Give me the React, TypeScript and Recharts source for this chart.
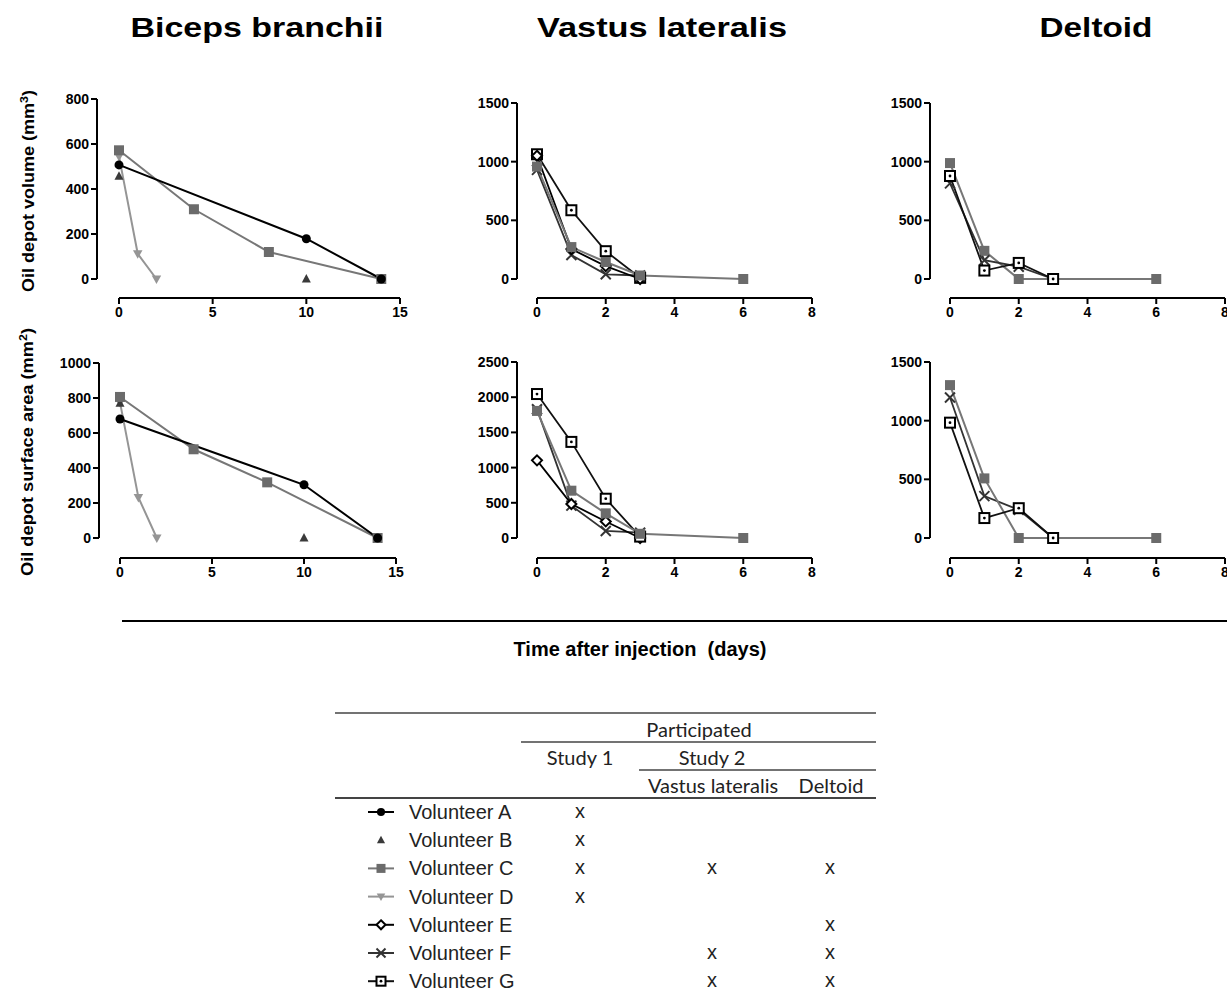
import React from 'react';
import { LineChart, Line, XAxis, YAxis, ReferenceLine } from 'recharts';

type Pt = [number, number];

// Biceps branchii (study 1): [day, value]
const bbVolA: Pt[] = [[0, 507], [10, 179], [14, 0]];
const bbVolB: Pt[] = [[0, 457], [10, 0]];
const bbVolC: Pt[] = [[0, 572], [4, 310], [8, 120], [14, 0]];
const bbVolD: Pt[] = [[0, 545], [1, 112], [2, 0]];
const bbAreaA: Pt[] = [[0, 680], [10, 304], [14, 0]];
const bbAreaB: Pt[] = [[0, 770], [10, 0]];
const bbAreaC: Pt[] = [[0, 806], [4, 507], [8, 318], [14, 0]];
const bbAreaD: Pt[] = [[0, 775], [1, 232], [2, 0]];

// Vastus lateralis
const vlVolC: Pt[] = [[0, 958], [1, 272], [2, 145], [3, 30], [6, 0]];
const vlVolE: Pt[] = [[0, 1050], [1, 255], [2, 110], [3, 0]];
const vlVolF: Pt[] = [[0, 930], [1, 204], [2, 40], [3, 30]];
const vlVolG: Pt[] = [[0, 1063], [1, 586], [2, 237], [3, 10]];
const vlAreaC: Pt[] = [[0, 1805], [1, 672], [2, 350], [3, 60], [6, 0]];
const vlAreaE: Pt[] = [[0, 1103], [1, 483], [2, 235], [3, 0]];
const vlAreaF: Pt[] = [[0, 1830], [1, 460], [2, 100], [3, 75]];
const vlAreaG: Pt[] = [[0, 2045], [1, 1365], [2, 558], [3, 20]];

// Deltoid
const dtVolC: Pt[] = [[0, 988], [1, 240], [2, 0], [3, 0], [6, 0]];
const dtVolF: Pt[] = [[0, 815], [1, 160], [2, 105], [3, 0]];
const dtVolG: Pt[] = [[0, 878], [1, 72], [2, 137], [3, 0]];
const dtAreaC: Pt[] = [[0, 1303], [1, 508], [2, 0], [3, 0], [6, 0]];
const dtAreaF: Pt[] = [[0, 1198], [1, 357], [2, 240], [3, 0]];
const dtAreaG: Pt[] = [[0, 983], [1, 170], [2, 254], [3, 0]];

const bbDayTicks = [0, 5, 10, 15];
const dayTicks = [0, 2, 4, 6, 8];
const bbVolTicks = [0, 200, 400, 600, 800];
const bbAreaTicks = [0, 200, 400, 600, 800, 1000];
const vlVolTicks = [0, 500, 1000, 1500];
const vlAreaTicks = [0, 500, 1000, 1500, 2000, 2500];
const dtTicks = [0, 500, 1000, 1500];

const muscles = ['Biceps branchii', 'Vastus lateralis', 'Deltoid'];
const volunteers = ['A', 'B', 'C', 'D', 'E', 'F', 'G'];
const inStudy1 = [true, true, true, true, false, false, false];
const inVastus = [false, false, true, false, false, true, true];
const inDeltoid = [false, false, true, false, true, true, true];

const ARIAL = '"Liberation Sans", Arial, sans-serif';

type Shape = 'circle' | 'triangle' | 'square' | 'invTriangle' | 'diamond' | 'cross' | 'dotSquare';
const styles: Record<string, { color: string; line: string; width: number; shape: Shape }> = {
  A: { color: '#000', line: '#000', width: 2, shape: 'circle' },
  B: { color: '#3a3a3a', line: 'none', width: 0, shape: 'triangle' },
  C: { color: '#6b6b6b', line: '#777', width: 2, shape: 'square' },
  D: { color: '#959595', line: '#959595', width: 2, shape: 'invTriangle' },
  E: { color: '#000', line: '#000', width: 1.8, shape: 'diamond' },
  F: { color: '#333', line: '#333', width: 1.8, shape: 'cross' },
  G: { color: '#000', line: '#111', width: 1.8, shape: 'dotSquare' },
};

function Marker({ shape, cx, cy, color, s = 5 }: { shape: Shape; cx: number; cy: number; color: string; s?: number }) {
  if (cx == null || cy == null) return null;
  switch (shape) {
    case 'circle':
      return <circle cx={cx} cy={cy} r={s * 0.9} fill={color} />;
    case 'triangle':
      return <polygon points={`${cx},${cy - s} ${cx + s * 0.9},${cy + s * 0.7} ${cx - s * 0.9},${cy + s * 0.7}`} fill={color} />;
    case 'invTriangle':
      return <polygon points={`${cx},${cy + s} ${cx + s * 0.95},${cy - s * 0.7} ${cx - s * 0.95},${cy - s * 0.7}`} fill={color} />;
    case 'square':
      return <rect x={cx - s} y={cy - s} width={s * 2} height={s * 2} fill={color} />;
    case 'diamond':
      return <polygon points={`${cx},${cy - s} ${cx + s},${cy} ${cx},${cy + s} ${cx - s},${cy}`} fill="#fff" stroke={color} strokeWidth={2} />;
    case 'cross':
      return (
        <g stroke={color} strokeWidth={2}>
          <line x1={cx - s} y1={cy - s} x2={cx + s} y2={cy + s} />
          <line x1={cx - s} y1={cy + s} x2={cx + s} y2={cy - s} />
        </g>
      );
    case 'dotSquare':
      return (
        <g>
          <rect x={cx - s} y={cy - s} width={s * 2} height={s * 2} fill="#fff" stroke={color} strokeWidth={2} />
          <circle cx={cx} cy={cy} r={1.4} fill={color} />
        </g>
      );
  }
  return null;
}

type Series = { id: string; pts: Pt[] };

interface PanelProps {
  axisX: number; x0Px: number; xEndPx: number; xMax: number; xTicks: number[];
  yTopPx: number; y0Px: number; xAxisPx: number; yMax: number; yTicks: number[];
  series: Series[];
}

const tickStyle = { fill: '#000', fontSize: 14, fontWeight: 700, fontFamily: ARIAL };

function Panel(p: PanelProps) {
  const pxPerX = (p.xEndPx - p.x0Px) / p.xMax;
  const xMin = -(p.x0Px - p.axisX) / pxPerX;
  const pxPerY = (p.y0Px - p.yTopPx) / p.yMax;
  const yMin = -(p.xAxisPx - p.y0Px) / pxPerY;
  const left = p.axisX - 60;
  const top = p.yTopPx - 10;
  const width = p.xEndPx + 15 - left;
  const height = p.xAxisPx + 30 - top;
  return (
    <div style={{ position: 'absolute', left, top }}>
      <LineChart width={width} height={height} margin={{ top: 10, right: 15, bottom: 0, left: 0 }}>
        <XAxis type="number" dataKey="d" domain={[xMin, p.xMax]} ticks={p.xTicks} allowDataOverflow interval={0}
          axisLine={false} tickLine={{ stroke: '#000', strokeWidth: 2 }} tickSize={6} tickMargin={3}
          tick={tickStyle} height={30} />
        <YAxis type="number" domain={[yMin, p.yMax]} ticks={p.yTicks} allowDataOverflow interval={0}
          axisLine={false} tickLine={{ stroke: '#000', strokeWidth: 2 }} tickSize={6} tickMargin={2}
          tick={tickStyle} width={60} />
        <ReferenceLine segment={[{ x: xMin, y: 0 }, { x: xMin, y: p.yMax }]} stroke="#000" strokeWidth={2} ifOverflow="visible" />
        <ReferenceLine segment={[{ x: 0, y: yMin }, { x: p.xMax, y: yMin }]} stroke="#000" strokeWidth={2} ifOverflow="visible" />
        {p.series.map((s) => {
          const st = styles[s.id];
          return (
            <Line key={s.id} data={s.pts.map(([d, v]) => ({ d, v }))} dataKey="v" type="linear"
              stroke={st.line} strokeWidth={st.width} isAnimationActive={false} activeDot={false}
              dot={(dp: any) => <Marker key={`${s.id}-${dp.index}`} shape={st.shape} cx={dp.cx} cy={dp.cy} color={st.color} />} />
          );
        })}
      </LineChart>
    </div>
  );
}

export default function App() {
  const rowY = volunteers.map((_, i) => 812 + i * 28.2);
  return (
    <div style={{ position: 'absolute', left: 0, top: 0, width: 1227, height: 992, overflow: 'hidden', background: '#fff' }}>
      <svg width={1227} height={992} style={{ position: 'absolute', left: 0, top: 0 }}>
        <g fontFamily={ARIAL} fontWeight={700} fontSize={28} textAnchor="middle" fill="#000" lengthAdjust="spacingAndGlyphs">
          <text x={257} y={37} textLength={253} lengthAdjust="spacingAndGlyphs">{muscles[0]}</text>
          <text x={662} y={37} textLength={250} lengthAdjust="spacingAndGlyphs">{muscles[1]}</text>
          <text x={1096} y={37} textLength={113} lengthAdjust="spacingAndGlyphs">{muscles[2]}</text>
        </g>
        <g fontFamily={ARIAL} fontWeight={700} fontSize={16} textAnchor="middle" fill="#000" style={{ whiteSpace: 'pre' }}>
          <text transform="translate(33.5,191) rotate(-90)" textLength={202} lengthAdjust="spacingAndGlyphs">
            Oil depot  volume (mm<tspan dy={-6} fontSize={11}>3</tspan><tspan dy={6}>)</tspan>
          </text>
          <text transform="translate(33,452) rotate(-90)" textLength={248} lengthAdjust="spacingAndGlyphs">
            Oil depot  surface area (mm<tspan dy={-6} fontSize={11}>2</tspan><tspan dy={6}>)</tspan>
          </text>
        </g>
        <line x1={122} y1={621} x2={1227} y2={621} stroke="#000" strokeWidth={2} />
        <text x={640} y={656} fontFamily={ARIAL} fontWeight={700} fontSize={20} textAnchor="middle" style={{ whiteSpace: 'pre' }}>
          Time after injection  (days)
        </text>

        {/* participation table */}
        <g stroke="#444">
          <line x1={335} y1={713} x2={876} y2={713} strokeWidth={1.5} />
          <line x1={521} y1={742} x2={876} y2={742} strokeWidth={1.5} />
          <line x1={639} y1={770} x2={876} y2={770} strokeWidth={1.5} />
          <line x1={335} y1={798} x2={876} y2={798} strokeWidth={2} />
        </g>
        <g fontFamily="Lato, 'Open Sans', sans-serif" fontSize={20} fill="#222" textAnchor="middle">
          <text x={699} y={737}>Participated</text>
          <text x={580} y={765}>Study 1</text>
          <text x={712} y={765}>Study 2</text>
          <text x={713} y={793}>Vastus lateralis</text>
          <text x={831} y={793}>Deltoid</text>
        </g>
        {volunteers.map((v, i) => {
          const st = styles[v];
          const y = rowY[i];
          return (
            <g key={v}>
              {st.line !== 'none' && <line x1={368} y1={y} x2={394} y2={y} stroke={st.line} strokeWidth={2} />}
              <Marker shape={st.shape} cx={381} cy={y} color={st.color} s={4.5} />
              <text x={409} y={y + 7} fontFamily={ARIAL} fontSize={20} fill="#222">{`Volunteer ${v}`}</text>
              <g fontFamily={ARIAL} fontSize={20} fill="#222" textAnchor="middle">
                {inStudy1[i] && <text x={580} y={y + 6}>x</text>}
                {inVastus[i] && <text x={712} y={y + 6}>x</text>}
                {inDeltoid[i] && <text x={830} y={y + 6}>x</text>}
              </g>
            </g>
          );
        })}
      </svg>

      <Panel axisX={97} x0Px={119} xEndPx={400} xMax={15} xTicks={bbDayTicks}
        yTopPx={99} y0Px={279} xAxisPx={298} yMax={800} yTicks={bbVolTicks}
        series={[{ id: 'D', pts: bbVolD }, { id: 'B', pts: bbVolB }, { id: 'C', pts: bbVolC }, { id: 'A', pts: bbVolA }]} />
      <Panel axisX={517} x0Px={537} xEndPx={812} xMax={8} xTicks={dayTicks}
        yTopPx={103} y0Px={279} xAxisPx={298} yMax={1500} yTicks={vlVolTicks}
        series={[{ id: 'F', pts: vlVolF }, { id: 'G', pts: vlVolG }, { id: 'E', pts: vlVolE }, { id: 'C', pts: vlVolC }]} />
      <Panel axisX={930} x0Px={950} xEndPx={1225} xMax={8} xTicks={dayTicks}
        yTopPx={103} y0Px={279} xAxisPx={298} yMax={1500} yTicks={dtTicks}
        series={[{ id: 'C', pts: dtVolC }, { id: 'F', pts: dtVolF }, { id: 'G', pts: dtVolG }]} />
      <Panel axisX={99} x0Px={120} xEndPx={396} xMax={15} xTicks={bbDayTicks}
        yTopPx={363} y0Px={538} xAxisPx={558} yMax={1000} yTicks={bbAreaTicks}
        series={[{ id: 'D', pts: bbAreaD }, { id: 'B', pts: bbAreaB }, { id: 'C', pts: bbAreaC }, { id: 'A', pts: bbAreaA }]} />
      <Panel axisX={517} x0Px={537} xEndPx={812} xMax={8} xTicks={dayTicks}
        yTopPx={362} y0Px={538} xAxisPx={558} yMax={2500} yTicks={vlAreaTicks}
        series={[{ id: 'F', pts: vlAreaF }, { id: 'E', pts: vlAreaE }, { id: 'G', pts: vlAreaG }, { id: 'C', pts: vlAreaC }]} />
      <Panel axisX={930} x0Px={950} xEndPx={1225} xMax={8} xTicks={dayTicks}
        yTopPx={362} y0Px={538} xAxisPx={558} yMax={1500} yTicks={dtTicks}
        series={[{ id: 'F', pts: dtAreaF }, { id: 'C', pts: dtAreaC }, { id: 'G', pts: dtAreaG }]} />
    </div>
  );
}
